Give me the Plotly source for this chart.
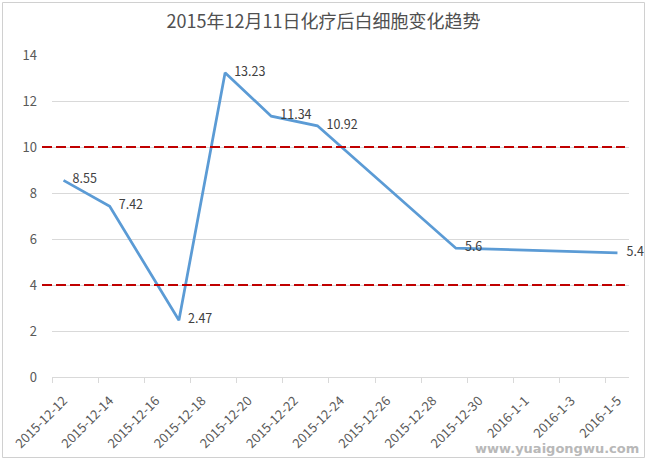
import plotly.graph_objects as go

dates = ["2015-12-12", "2015-12-14", "2015-12-17", "2015-12-19", "2015-12-21",
         "2015-12-23", "2015-12-29", "2016-01-05"]
wbc = [8.55, 7.42, 2.47, 13.23, 11.34, 10.92, 5.6, 5.4]
wbc_labels = ["8.55", "7.42", "2.47", "13.23", "11.34", "10.92", "5.6", "5.4"]

tick_dates = ["2015-12-12", "2015-12-14", "2015-12-16", "2015-12-18", "2015-12-20",
              "2015-12-22", "2015-12-24", "2015-12-26", "2015-12-28", "2015-12-30",
              "2016-01-01", "2016-01-03", "2016-01-05"]
tick_text = ["2015-12-12", "2015-12-14", "2015-12-16", "2015-12-18", "2015-12-20",
             "2015-12-22", "2015-12-24", "2015-12-26", "2015-12-28", "2015-12-30",
             "2016-1-1", "2016-1-3", "2016-1-5"]
upper_ref = 10
lower_ref = 4
title = "2015年12月11日化疗后白细胞变化趋势"

FONT = "Noto Sans CJK SC"

W, H = 647, 460
L, T, R, B = 52, 55, 18, 83
PW = W - L - R
PH = H - T - B

def px_x(p):
    return (p - L) / PW

def px_y(p):
    return (H - B - p) / PH

fig = go.Figure()
fig.add_trace(go.Scatter(
    x=dates, y=wbc, mode="lines+text", text=["\u2002 " + t for t in wbc_labels],
    textposition="middle right",
    textfont=dict(family=FONT, size=12.5, color="#404040"),
    line=dict(color="#5B9BD5", width=2.75),
    cliponaxis=False, showlegend=False, hoverinfo="skip",
))

for v in (upper_ref, lower_ref):
    fig.add_shape(type="line", xref="paper", yref="y", x0=px_x(42), x1=px_x(625), y0=v, y1=v,
                  line=dict(color="#C00000", width=2, dash="10px,4px"))

fig.add_shape(type="rect", xref="paper", yref="paper", x0=px_x(2.5), x1=px_x(644.5),
              y0=px_y(457.5), y1=px_y(2.5), line=dict(color="#D0D0D0", width=1), layer="below")

fig.add_annotation(text="www.yuaigongwu.com", xref="paper", yref="paper",
                   x=px_x(641), y=px_y(448), xanchor="right", yanchor="middle", showarrow=False,
                   font=dict(family="DejaVu Sans", size=13, color="#B8B8B8", weight="bold"))

fig.update_layout(
    width=W, height=H,
    margin=dict(l=L, r=R, t=T, b=B, autoexpand=False),
    paper_bgcolor="white", plot_bgcolor="white",
    title=dict(text=title, x=0.5, xref="container", xanchor="center",
               y=1 - 22 / H, yanchor="middle",
               font=dict(family=FONT, size=18, color="#505050")),
    font=dict(family=FONT, size=13, color="#595959"),
    xaxis=dict(type="date", range=["2015-12-11 12:00", "2016-01-05 12:00"],
               tickvals=tick_dates, ticktext=tick_text, tickangle=-45,
               ticks="", showgrid=False, showline=True, linecolor="#D9D9D9",
               ticklabelstandoff=10, automargin=False,
               tickfont=dict(family=FONT, size=13, color="#595959"),
               minor=dict(tick0="2015-12-11 12:00", dtick=2 * 86400000, ticks="outside",
                          ticklen=5, tickcolor="#D9D9D9", showgrid=False),
               zeroline=False),
    yaxis=dict(range=[0, 14], dtick=2, showgrid=True, gridcolor="#D9D9D9", gridwidth=1,
               zeroline=False, ticks="", ticklabelstandoff=14, automargin=False,
               tickfont=dict(family=FONT, size=13, color="#595959")),
)

fig.write_html("out.html", config={"displayModeBar": False},
               post_script="document.body.style.margin='0';document.body.style.overflow='hidden';")
